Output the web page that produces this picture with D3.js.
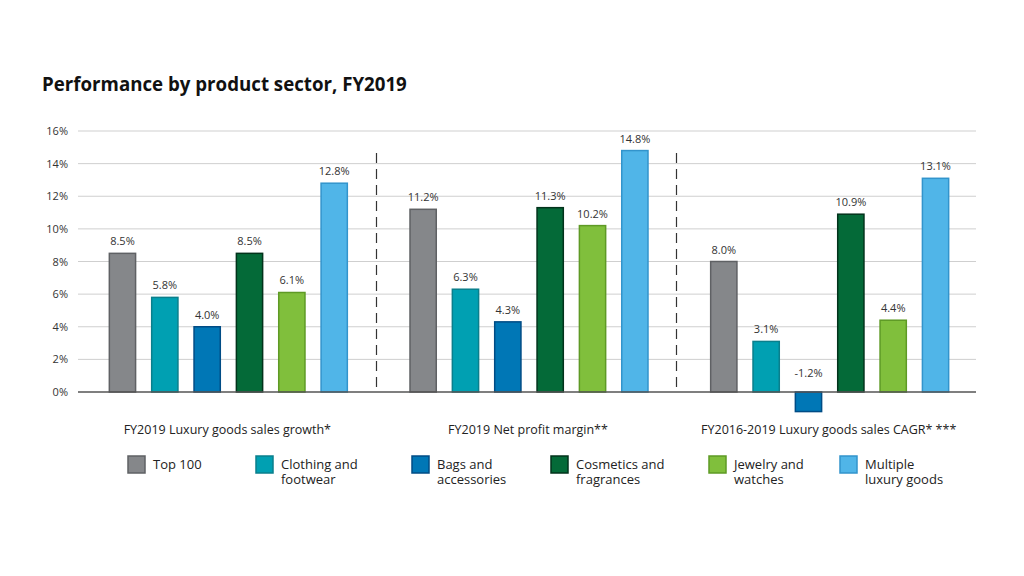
<!DOCTYPE html>
<html><head><meta charset="utf-8">
<script src="https://cdn.jsdelivr.net/npm/d3@7"></script>
<style>body{margin:0;background:#fff;font-family:"Open Sans",sans-serif;}</style>
</head><body>
<svg id="c" width="1024" height="576"></svg>
<script>
const groups = ["FY2019 Luxury goods sales growth*", "FY2019 Net profit margin**", "FY2016-2019 Luxury goods sales CAGR* ***"];
const seriesNames = ["Top 100", "Clothing and footwear", "Bags and accessories", "Cosmetics and fragrances", "Jewelry and watches", "Multiple luxury goods"];
const legendLines = [["Top 100"], ["Clothing and", "footwear"], ["Bags and", "accessories"], ["Cosmetics and", "fragrances"], ["Jewelry and", "watches"], ["Multiple", "luxury goods"]];
const top100 = [8.5, 11.2, 8.0];
const clothing = [5.8, 6.3, 3.1];
const bags = [4.0, 4.3, -1.2];
const cosmetics = [8.5, 11.3, 10.9];
const jewelry = [6.1, 10.2, 4.4];
const multiple = [12.8, 14.8, 13.1];
const yTicks = [0, 2, 4, 6, 8, 10, 12, 14, 16];
const fills = ["#85878a", "#00a0b2", "#0077b6", "#046a38", "#80bf3c", "#50b5e8"];
const strokes = ["#5f6164", "#0a7f8c", "#004c85", "#02331b", "#5e9a25", "#3294cc"];

const seriesVals = [top100, clothing, bags, cosmetics, jewelry, multiple];
const svg = d3.select("#c");

svg.append("text").attr("x", 42).attr("y", 91).attr("font-size", 18.7).attr("font-weight", 700)
  .attr("fill", "#111").text("Performance by product sector, FY2019");

const y = d3.scaleLinear().domain([0, 16]).range([392, 131]);
const x0 = d3.scaleBand().domain(groups).range([78, 980]).padding(0);
const x1 = d3.scaleBand().domain(seriesNames).range([0, x0.bandwidth()]).paddingInner(0.38).paddingOuter(0.74);

// gridlines
svg.append("g").selectAll("line").data(yTicks.filter(d => d !== 0)).join("line")
  .attr("x1", 78).attr("x2", 976).attr("y1", d => y(d)).attr("y2", d => y(d))
  .attr("stroke", "#cfcfcf").attr("stroke-width", 1);

const yAxis = d3.axisLeft(y).tickValues(yTicks).tickFormat(d => d + "%").tickSize(0).tickPadding(10);
const ga = svg.append("g").attr("transform", "translate(78,0)").call(yAxis);
ga.select(".domain").remove();
ga.selectAll("text").attr("font-family", "Open Sans").attr("font-size", 11).attr("fill", "#333");

// separators
svg.append("g").selectAll("line").data(groups.slice(1)).join("line")
  .attr("x1", d => Math.round(x0(d)) - 2.5).attr("x2", d => Math.round(x0(d)) - 2.5)
  .attr("y1", 153).attr("y2", 392).attr("stroke", "#333").attr("stroke-width", 1.2)
  .attr("stroke-dasharray", "10,6");

// bars
const data = [];
groups.forEach((g, gi) => seriesNames.forEach((s, si) => data.push({g, s, si, v: seriesVals[si][gi]})));
svg.append("g").selectAll("rect").data(data).join("rect")
  .attr("x", d => x0(d.g) + x1(d.s))
  .attr("width", x1.bandwidth())
  .attr("y", d => Math.min(y(d.v), y(0)))
  .attr("height", d => Math.abs(y(d.v) - y(0)))
  .attr("fill", d => fills[d.si]).attr("stroke", d => strokes[d.si]).attr("stroke-width", 1.5);

svg.append("g").selectAll("text").data(data).join("text")
  .attr("x", d => x0(d.g) + x1(d.s) + x1.bandwidth() / 2)
  .attr("y", d => d.v >= 0 ? y(d.v) - 8 : y(0) - 15)
  .attr("text-anchor", "middle").attr("font-size", 11).attr("fill", "#333")
  .text(d => d.v.toFixed(1) + "%");

// zero line
svg.append("line").attr("x1", 78).attr("x2", 976).attr("y1", y(0)).attr("y2", y(0))
  .attr("stroke", "#555").attr("stroke-width", 1.3);

// group labels
svg.append("g").selectAll("text").data(groups).join("text")
  .attr("x", d => x0(d) + x0.bandwidth() / 2 - 1).attr("y", 434)
  .attr("text-anchor", "middle").attr("font-size", 12.5).attr("fill", "#222").text(d => d);

// legend
const legX = [128, 256, 412, 551, 709, 840];
const lg = svg.append("g").selectAll("g").data(seriesNames).join("g")
  .attr("transform", (d, i) => `translate(${legX[i]},456)`);
lg.append("rect").attr("width", 17).attr("height", 17)
  .attr("fill", (d, i) => fills[i]).attr("stroke", (d, i) => strokes[i]).attr("stroke-width", 1.5);
lg.each(function(d, i) {
  const g = d3.select(this);
  legendLines[i].forEach((l, li) => g.append("text").attr("x", 25).attr("y", 13 + li * 15)
    .attr("font-size", 13).attr("fill", "#222").text(l));
});
</script>
</body></html>
